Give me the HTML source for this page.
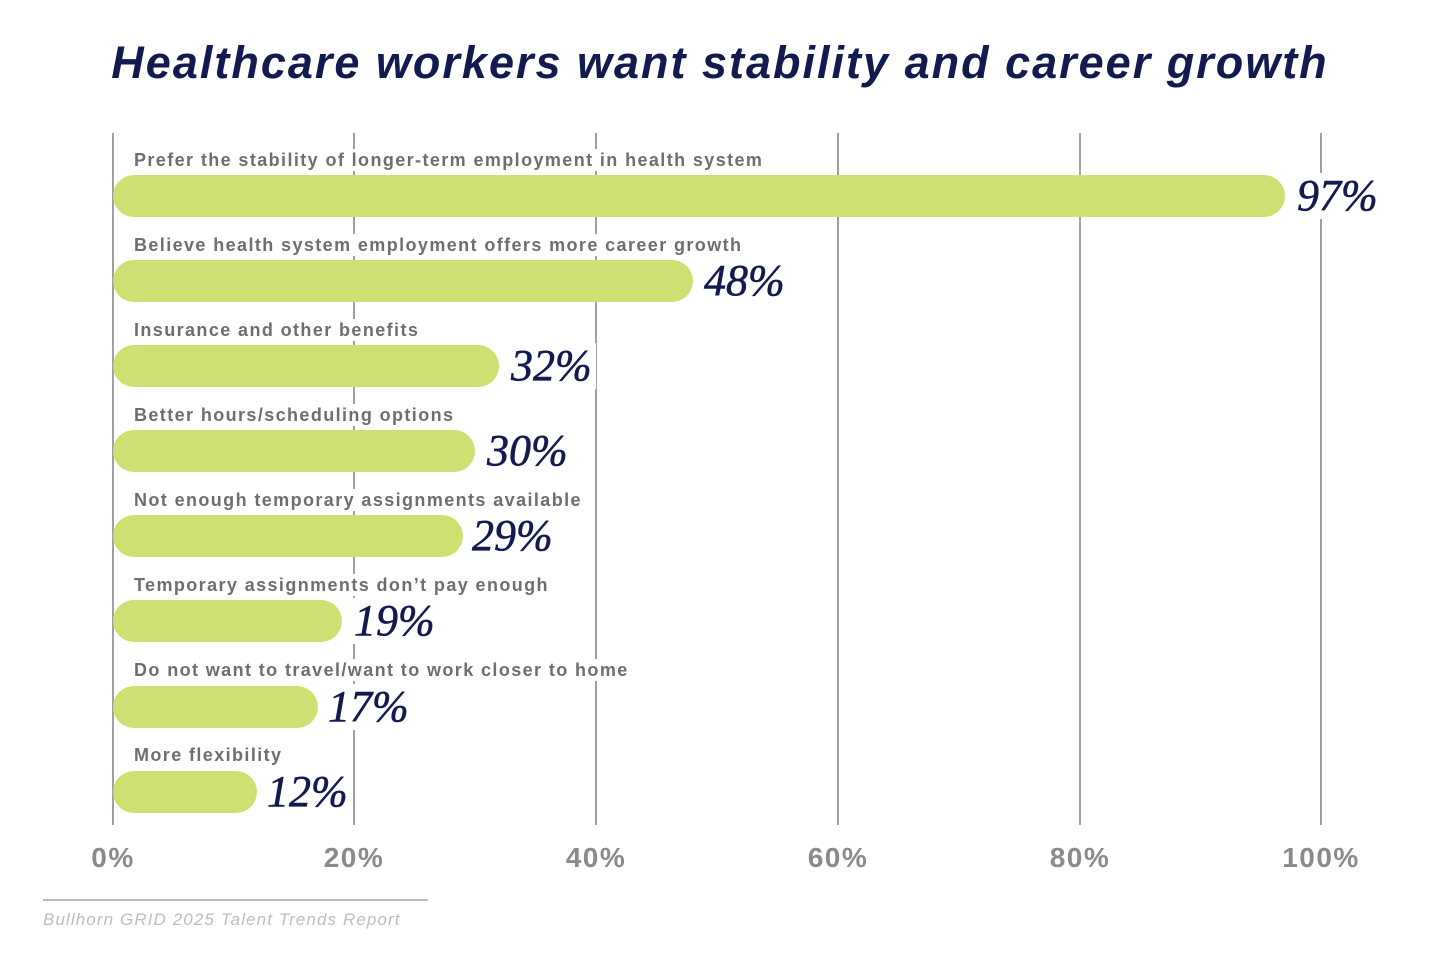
<!DOCTYPE html>
<html><head><meta charset="utf-8"><style>
body{margin:0;width:1440px;height:966px;background:#fff;position:relative;overflow:hidden;font-family:"Liberation Sans",sans-serif}
.t{position:absolute;top:37px;left:0;width:1440px;text-align:center;font-size:45px;font-weight:bold;font-style:italic;color:#131a4f;letter-spacing:2px}
.g{position:absolute;top:133px;height:692px;width:2px;background:#a0a0a0}
.b{position:absolute;left:113px;height:42px;background:#cfe072;border-radius:21px}
.l{position:absolute;left:134px;font-size:18px;font-weight:bold;color:#6e6e6e;background:#fff;line-height:22px;padding-right:2px;letter-spacing:1.4px}
.v{position:absolute;font-family:"Liberation Serif",serif;font-style:italic;font-size:44px;color:#131a4f;background:#fff;line-height:46px;padding:0 4px;-webkit-text-stroke:0.6px #131a4f}
.x{position:absolute;top:842px;font-size:28px;font-weight:bold;color:#8a8a8a;width:140px;text-align:center;letter-spacing:1.5px}
</style></head><body>
<div class="t">Healthcare workers want stability and career growth</div>
<div class="g" style="left:112px"></div><div class="g" style="left:353px"></div><div class="g" style="left:595px"></div><div class="g" style="left:837px"></div><div class="g" style="left:1079px"></div><div class="g" style="left:1320px"></div>

<div class="l" style="top:149px">Prefer the stability of longer-term employment in health system</div>
<div class="b" style="top:175px;width:1172px"></div><div class="v" style="top:173px;left:1293px">97%</div>
<div class="l" style="top:234px">Believe health system employment offers more career growth</div>
<div class="b" style="top:260px;width:580px"></div><div class="v" style="top:258px;left:700px">48%</div>
<div class="l" style="top:319px">Insurance and other benefits</div>
<div class="b" style="top:345px;width:386px"></div><div class="v" style="top:343px;left:507px">32%</div>
<div class="l" style="top:404px">Better hours/scheduling options</div>
<div class="b" style="top:430px;width:362px"></div><div class="v" style="top:428px;left:483px">30%</div>
<div class="l" style="top:489px">Not enough temporary assignments available</div>
<div class="b" style="top:515px;width:350px"></div><div class="v" style="top:513px;left:468px">29%</div>
<div class="l" style="top:574px">Temporary assignments don’t pay enough</div>
<div class="b" style="top:600px;width:229px"></div><div class="v" style="top:598px;left:350px">19%</div>
<div class="l" style="top:659px">Do not want to travel/want to work closer to home</div>
<div class="b" style="top:686px;width:205px"></div><div class="v" style="top:684px;left:324px">17%</div>
<div class="l" style="top:744px">More flexibility</div>
<div class="b" style="top:771px;width:144px"></div><div class="v" style="top:769px;left:263px">12%</div>

<div class="x" style="left:43px">0%</div><div class="x" style="left:284px">20%</div><div class="x" style="left:526px">40%</div><div class="x" style="left:768px">60%</div><div class="x" style="left:1010px">80%</div><div class="x" style="left:1251px">100%</div>
<div style="position:absolute;left:43px;top:899px;width:385px;height:2px;background:#bbb"></div>
<div style="position:absolute;left:43px;top:910px;font-size:17px;font-style:italic;color:#bdbdbd;letter-spacing:1.1px">Bullhorn GRID 2025 Talent Trends Report</div>
</body></html>
